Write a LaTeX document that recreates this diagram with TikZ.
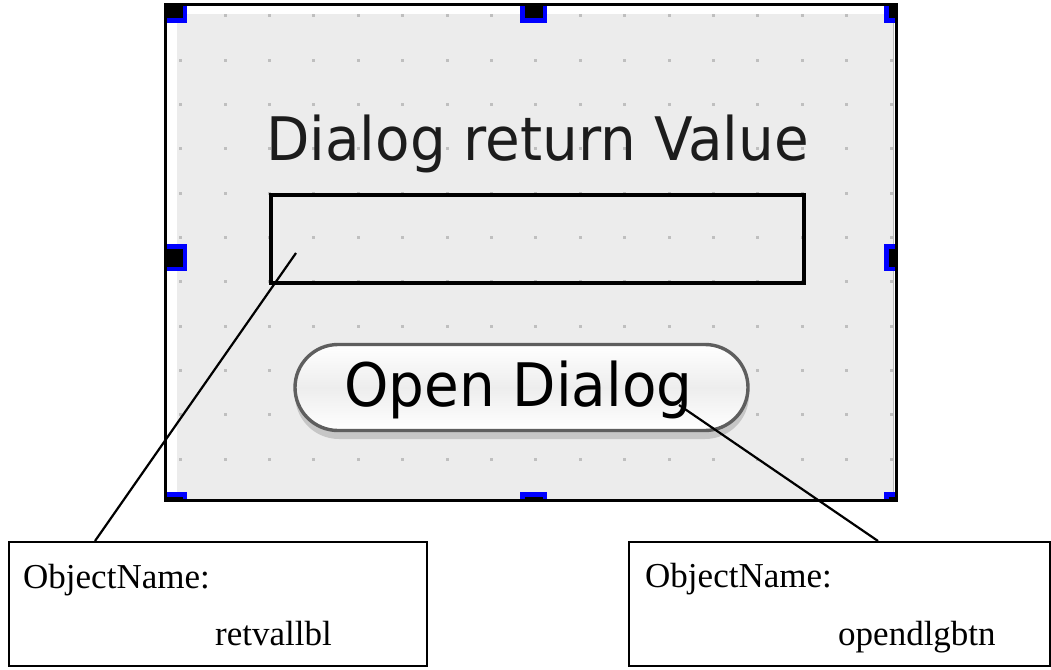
\documentclass[tikz,border=0pt]{standalone}
\usepackage{fontspec}
\setmainfont{Liberation Serif}
\newfontfamily\uifont{DejaVu Sans}
\definecolor{formgray}{HTML}{ECECEC}
\definecolor{griddot}{HTML}{BFBFBF}
\definecolor{btnedge}{HTML}{5E5E5E}
\definecolor{uitext}{HTML}{1C1C1C}
\definecolor{handleblue}{HTML}{0000FF}
\tikzset{
  uilabel/.style={anchor=base west, inner sep=0pt, text=uitext,
    font=\uifont\fontsize{60}{72}\selectfont},
  handle/.style={draw=handleblue, fill=black, line width=4.5pt, inner sep=0pt,
    minimum size=22.5pt},
  namebox/.style={draw=black, line width=2pt, anchor=north west, inner sep=0pt,
    minimum width=418pt, minimum height=124pt},
  nametext/.style={anchor=base west, inner sep=0pt,
    font=\fontsize{35}{42}\selectfont},
  leader/.style={draw=black, line width=2.2pt},
}
\begin{document}
\begin{tikzpicture}[x=1pt, y=-1pt]
\useasboundingbox (0,0) rectangle (1051,669);

% form background with its white inner edge
\fill[white] (165,4) rectangle (897,501);
\fill[formgray] (177.3,14) rectangle (893,499);
\draw[gray!55, line width=1.2pt] (893.6,14) -- (893.6,499);

% layout grid
\foreach \i in {0,...,16}{
  \foreach \j in {0,...,10}{
    \fill[griddot] ({180.7+44.4*\i-1.5},{15.7+44.35*\j-1.5}) rectangle ++(3,3);
  }
}

% selection handles, clipped to the form
\begin{scope}
  \clip (165,4) rectangle (897,501);
  \foreach \hx/\hy [count=\k] in {173.5/9.5, 533.5/9.5, 897.5/9.5,
      173.5/257.5, 897.5/257.5, 173.5/505.5, 533.5/505.5, 897.5/505.5}{
    \node[handle] (h\k) at (\hx,\hy) {};
  }
\end{scope}

% form frame
\draw[black, line width=2.6pt] (165.5,4.5) rectangle (896.5,500.5);

% caption label
\node[uilabel] (caption) at (266,160) {\scalebox{0.94}[1]{Dialog return Value}};

% return value label
\node[draw=black, line width=4pt, anchor=north west, inner sep=0pt,
  minimum width=533pt, minimum height=88pt] (retval) at (269,193) {};

% push button
\fill[gray!45, rounded corners=44pt] (295,349) rectangle (749,439);
\node[draw=btnedge, line width=3.4pt, rounded corners=43pt, inner sep=0pt,
  minimum width=453pt, minimum height=86pt,
  top color=white, bottom color=white, middle color=gray!14]
  (btn) at (521.5,387.5) {};
\node[uilabel, text=black] (btntext) at (344,406) {\scalebox{0.94}[1]{Open Dialog}};

% object name call-outs
\node[namebox] (box1) at (8,541) {};
\node[nametext] (on1) at (23,588) {ObjectName:};
\node[nametext] (nm1) at (215,645) {retvallbl};

\node[namebox, minimum width=421pt] (box2) at (628,541) {};
\node[nametext] (on2) at (645,587) {ObjectName:};
\node[nametext] (nm2) at (838,645) {opendlgbtn};

% leader lines
\coordinate (retvalpt) at (296,253);
\coordinate (btnpt) at (679,405);
\coordinate (box1pt) at (95,541);
\coordinate (box2pt) at (878,541);
\path[leader] (retvalpt) -- (box1pt);
\path[leader] (btnpt) -- (box2pt);
\end{tikzpicture}
\end{document}
